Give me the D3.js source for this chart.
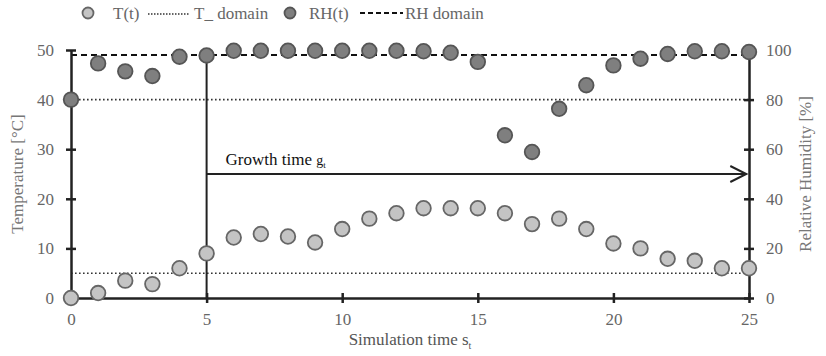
<!DOCTYPE html>
<html><head><meta charset="utf-8">
<script src="https://cdn.jsdelivr.net/npm/d3@7"></script>
<style>body{margin:0;background:#fff} svg text{font-family:"Liberation Serif","Times New Roman","DejaVu Serif",serif}</style>
</head><body>
<svg id="c" width="826" height="356"></svg>
<script>
const time = d3.range(0, 26);
const tempValues = [0, 1, 3.5, 2.8, 6, 9, 12.2, 12.9, 12.4, 11.2, 13.9, 16, 17.1, 18.1, 18.1, 18.1, 17.1, 14.9, 16, 13.9, 11, 10, 7.9, 7.5, 6, 6];
const rhValues = [80, 94.6, 91.4, 89.5, 97.3, 97.8, 99.7, 99.7, 99.7, 99.7, 99.7, 99.7, 99.7, 99.5, 98.9, 95.2, 65.6, 58.9, 76.3, 85.8, 93.8, 96.5, 98.4, 99.5, 99.5, 99.2];
const xTicks = [0, 5, 10, 15, 20, 25];
const tTicks = [0, 10, 20, 30, 40, 50];
const rhTicks = [0, 20, 40, 60, 80, 100];
const tDomain = [5, 40];
const rhDomain = 98;
const growthStart = 5, growthEnd = 24.9, growthLevel = 25;

const svg = d3.select("#c");
const m = {l: 71, r: 749, t: 50, b: 298};
const x = d3.scaleLinear().domain([0, 25]).range([m.l, m.r]);
const yT = d3.scaleLinear().domain([0, 50]).range([m.b, m.t]);
const yR = d3.scaleLinear().domain([0, 100]).range([m.b, m.t]);

// domain lines
tDomain.forEach(v => svg.append("line").attr("x1", x(0)).attr("x2", x(25))
  .attr("y1", yT(v)).attr("y2", yT(v)).attr("stroke", "#333").attr("stroke-width", 1.6)
  .attr("stroke-dasharray", "1.6,2.4"));
svg.append("line").attr("x1", x(0)).attr("x2", x(25))
  .attr("y1", yR(rhDomain)).attr("y2", yR(rhDomain)).attr("stroke", "#111").attr("stroke-width", 2)
  .attr("stroke-dasharray", "6,4");

// axes
function styleAxis(g){
  g.select(".domain").attr("stroke", "#222").attr("stroke-width", 2.5);
  g.selectAll(".tick line").attr("stroke", "#222").attr("stroke-width", 2.5);
  g.selectAll(".tick text").attr("fill", "#666").attr("font-family", null).attr("font-size", 17);
}
const gx = svg.append("g").attr("transform", `translate(0,${m.b})`)
  .call(d3.axisBottom(x).tickValues(xTicks).tickSizeInner(5).tickSizeOuter(0).tickPadding(10));
gx.attr("font-family", null);
gx.selectAll(".tick line").attr("y1", -5);
styleAxis(gx);
const gl = svg.append("g").attr("transform", `translate(${m.l},0)`)
  .call(d3.axisLeft(yT).tickValues(tTicks).tickSizeInner(5).tickSizeOuter(0).tickPadding(12));
gl.attr("font-family", null);
gl.selectAll(".tick line").attr("x1", 5);
styleAxis(gl);
const gr = svg.append("g").attr("transform", `translate(${m.r},0)`)
  .call(d3.axisRight(yR).tickValues(rhTicks).tickSizeInner(5).tickSizeOuter(0).tickPadding(12));
gr.attr("font-family", null);
gr.selectAll(".tick line").attr("x1", -5);
styleAxis(gr);

// growth time
svg.append("line").attr("x1", x(growthStart)).attr("x2", x(growthStart))
  .attr("y1", yT(0)).attr("y2", yT(50)).attr("stroke", "#222").attr("stroke-width", 2);
svg.append("line").attr("x1", x(growthStart)).attr("x2", x(growthEnd))
  .attr("y1", yT(growthLevel)).attr("y2", yT(growthLevel)).attr("stroke", "#222").attr("stroke-width", 2);
svg.append("path").attr("d", `M${x(growthEnd)-16},${yT(growthLevel)-8} L${x(growthEnd)},${yT(growthLevel)} L${x(growthEnd)-16},${yT(growthLevel)+8}`)
  .attr("fill", "none").attr("stroke", "#222").attr("stroke-width", 2);
const gt = svg.append("text").attr("x", x(growthStart) + 19).attr("y", yT(growthLevel) - 9)
  .attr("font-size", 17).attr("fill", "#111");
gt.append("tspan").text("Growth time ");
gt.append("tspan").attr("font-size", 14).text("g");
gt.append("tspan").attr("font-size", 9).attr("dy", 3).text("t");

// markers
svg.append("g").selectAll("circle").data(time).join("circle")
  .attr("cx", d => x(d)).attr("cy", (d, i) => yR(rhValues[i])).attr("r", 7.3)
  .attr("fill", "#7f7f7f").attr("stroke", "#555").attr("stroke-width", 1.8);
svg.append("g").selectAll("circle").data(time).join("circle")
  .attr("cx", d => x(d)).attr("cy", (d, i) => yT(tempValues[i])).attr("r", 7.3)
  .attr("fill", "#c4c4c4").attr("stroke", "#666").attr("stroke-width", 1.8);

// axis titles
svg.append("text").attr("transform", `translate(23,${(m.t+m.b)/2}) rotate(-90)`)
  .attr("text-anchor", "middle").attr("font-size", 17).attr("fill", "#777")
  .text("Temperature [°C]");
svg.append("text").attr("transform", `translate(811,${(m.t+m.b)/2}) rotate(-90)`)
  .attr("text-anchor", "middle").attr("font-size", 17).attr("fill", "#777")
  .text("Relative Humidity  [%]");
const xt = svg.append("text").attr("x", 410).attr("y", 345).attr("text-anchor", "middle")
  .attr("font-size", 17).attr("fill", "#555");
xt.append("tspan").text("Simulation  time s");
xt.append("tspan").attr("font-size", 10).attr("dy", 4).text("t");

// legend
const lg = svg.append("g").attr("font-size", 17).attr("fill", "#666");
lg.append("circle").attr("cx", 88).attr("cy", 13).attr("r", 5.5).attr("fill", "#c4c4c4").attr("stroke", "#666").attr("stroke-width", 1.8);
lg.append("text").attr("x", 113).attr("y", 19).text("T(t)");
lg.append("line").attr("x1", 148).attr("x2", 190).attr("y1", 14).attr("y2", 14).attr("stroke", "#333").attr("stroke-width", 1.5).attr("stroke-dasharray", "1.5,1.5");
lg.append("text").attr("x", 194).attr("y", 19).text("T_ domain");
lg.append("circle").attr("cx", 290).attr("cy", 13).attr("r", 5.5).attr("fill", "#7f7f7f").attr("stroke", "#555").attr("stroke-width", 1.8);
lg.append("text").attr("x", 309).attr("y", 19).text("RH(t)");
lg.append("line").attr("x1", 360).attr("x2", 403).attr("y1", 13).attr("y2", 13).attr("stroke", "#111").attr("stroke-width", 2).attr("stroke-dasharray", "5,3");
lg.append("text").attr("x", 405).attr("y", 19).text("RH domain");
</script>
</body></html>
